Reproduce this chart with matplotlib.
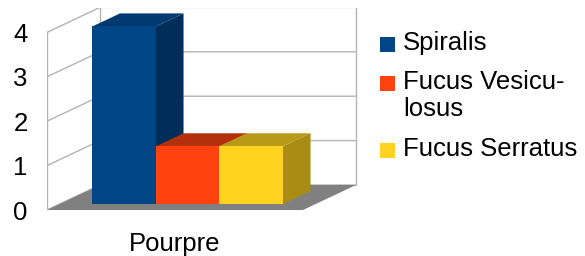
import matplotlib
matplotlib.use('Agg')
import matplotlib.pyplot as plt
from matplotlib.patches import Polygon, Rectangle

# ---- data ----
categories = ['Pourpre']
series = ['Spiralis', 'Fucus Vesicu-\nlosus', 'Fucus Serratus']
values = [4.0, 1.3, 1.3]
yticks = [0, 1, 2, 3, 4]

# ---- style ----
colors_front = ['#004586', '#ff420e', '#ffd320']
colors_top = ['#003a70', '#b3300b', '#b89a18']
colors_side = ['#002e58', '#a82c0a', '#a88c16']
grid_color = '#b3b3b3'
floor_color = '#808080'

plt.rcParams['font.family'] = ['Liberation Sans', 'DejaVu Sans']
FS = 18.5

W, H = 585, 256
fig = plt.figure(figsize=(W / 100, H / 100), dpi=100)
S = 44.4  # pixels per value unit
ax = fig.add_axes([47 / W, (H - 210) / H, (358 - 47) / W, (210 - 8) / H])
ax.set_xlim(0, 311 / S)
ax.set_ylim(0, 202 / S)
for sp in ax.spines.values():
    sp.set_visible(False)

Dx, Dy = 53 / S, 25 / S          # full depth vector
FW = 256 / S                     # floor width
top = max(yticks)

# walls
ax.add_patch(Polygon([(0, 0), (Dx, Dy), (Dx, top + Dy), (0, top)], closed=True,
                     facecolor='white', edgecolor='none', zorder=1))
ax.add_patch(Polygon([(Dx, Dy), (Dx + FW, Dy), (Dx + FW, top + Dy), (Dx, top + Dy)],
                     closed=True, facecolor='white', edgecolor='none', zorder=1))
for v in yticks:
    ax.plot([0, Dx, Dx + FW], [v, v + Dy, v + Dy], color=grid_color, lw=1, zorder=2,
            solid_joinstyle='miter')
ax.plot([0, 0], [0, top], color=grid_color, lw=1, zorder=2)
ax.plot([Dx, Dx], [Dy, top + Dy], color=grid_color, lw=1, zorder=2)
ax.plot([Dx + FW, Dx + FW], [Dy, top + Dy], color=grid_color, lw=1, zorder=2)

# floor
ax.add_patch(Polygon([(0, 0), (FW, 0), (FW + Dx, Dy), (Dx, Dy)], closed=True,
                     facecolor=floor_color, edgecolor='none', zorder=3))

# bars
n = len(series)
BW = 63.5 / S
d0, d1 = 0.24, 0.76
center = FW / 2
for i, v in enumerate(values):
    xl = center - n * BW / 2 + i * BW + d0 * Dx
    yb = d0 * Dy
    ddx, ddy = (d1 - d0) * Dx, (d1 - d0) * Dy
    z = 4 + i
    ax.add_patch(Polygon([(xl + BW, yb), (xl + BW + ddx, yb + ddy),
                          (xl + BW + ddx, yb + v + ddy), (xl + BW, yb + v)],
                         closed=True, facecolor=colors_side[i], edgecolor='none', zorder=z))
    ax.add_patch(Polygon([(xl, yb + v), (xl + ddx, yb + v + ddy),
                          (xl + BW + ddx, yb + v + ddy), (xl + BW, yb + v)],
                         closed=True, facecolor=colors_top[i], edgecolor='none', zorder=z))
    ax.add_patch(Rectangle((xl, yb), BW, v, facecolor=colors_front[i],
                           edgecolor='none', zorder=z + 0.5))

ax.set_yticks(yticks)
ax.set_yticklabels([str(t) for t in yticks], fontsize=FS)
ax.set_xticks([center])
ax.set_xticklabels(categories, fontsize=FS)
ax.tick_params(axis='y', length=0, pad=14)
ax.tick_params(axis='x', length=0, pad=16)

# legend
y = 44
for i, name in enumerate(series):
    fig.add_artist(Rectangle((380 / W, (H - y - 7.5) / H), 15 / W, 15 / H,
                             transform=fig.transFigure, facecolor=colors_front[i],
                             edgecolor='none'))
    fig.text(403 / W, (H - y + 13) / H, name, fontsize=FS, va='top', ha='left',
             linespacing=1.17)
    y += 39 + name.count('\n') * 28

fig.savefig('out.png', dpi=100)
